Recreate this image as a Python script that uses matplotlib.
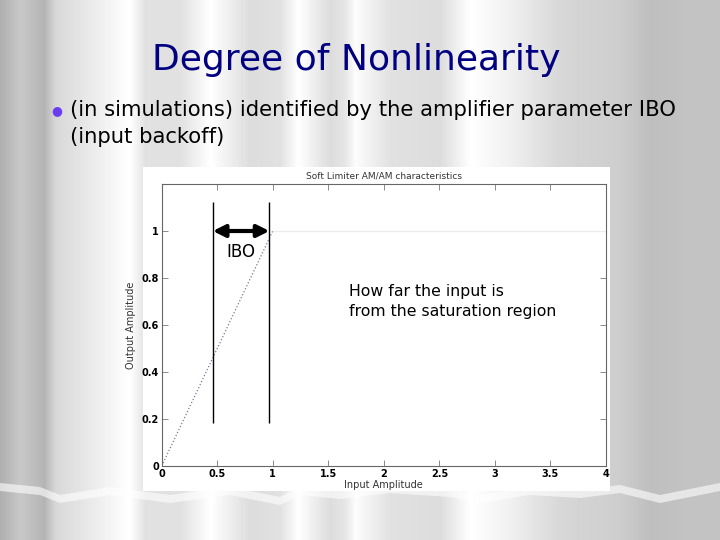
#!/usr/bin/env python3

import numpy as np
import matplotlib
matplotlib.use('Agg')
import matplotlib.pyplot as plt
from matplotlib.patches import Rectangle

# soft limiter AM/AM curve
input_amp = [0, 1, 4]
output_amp = [0, 1, 1]

# IBO marker lines
ibo_x = [0.46, 0.97]
ibo_ymin, ibo_ymax = 0.185, 1.125

xticks = [0, 0.5, 1, 1.5, 2, 2.5, 3, 3.5, 4]
yticks = [0, 0.2, 0.4, 0.6, 0.8, 1]

slide_title = 'Degree of Nonlinearity'
bullet_lines = ['(in simulations) identified by the amplifier parameter IBO',
                '(input backoff)']
note = 'How far the input is\nfrom the saturation region'


def curtain(fig):
    # grey curtain folds behind the slide
    bg = fig.add_axes([0, 0, 1, 1], zorder=-10)
    px = [0, 20, 44, 55, 130, 145, 180, 210, 250, 280, 298, 330, 345, 355,
          390, 440, 470, 510, 560, 620, 650, 690, 720]
    lv = [175, 200, 180, 215, 255, 225, 225, 255, 220, 225, 255, 220, 230, 252,
          225, 220, 255, 240, 215, 205, 190, 195, 195]
    row = np.interp(np.arange(720), px, lv) / 255.0
    img = np.tile(row, (540, 1))
    bg.imshow(img, cmap='gray', vmin=0, vmax=1, aspect='auto',
              extent=[0, 720, 540, 0])
    # white scalloped hem under the chart
    wx = np.array([0, 40, 60, 110, 170, 230, 280, 300, 340, 390, 450, 480, 530, 580, 620, 660, 720])
    wt = np.array([488, 492, 500, 492, 500, 492, 502, 492, 496, 490, 494, 500, 492, 495, 490, 500, 488])
    bg.fill_between(wx, wt - 5, wt + 3, color='white', alpha=0.6, lw=0)
    bg.set_xlim(0, 720)
    bg.set_ylim(540, 0)
    bg.axis('off')
    return bg


def main():
    fig = plt.figure(figsize=(7.2, 5.4), dpi=100)
    bg = curtain(fig)

    # white panel of the pasted figure
    bg.add_patch(Rectangle((143, 167), 467, 324, color='white', lw=0))

    fig.text(356 / 720, 1 - 60 / 540, slide_title, ha='center', va='center',
             fontsize=26, color='#000080')
    fig.text(57 / 720, 1 - 111 / 540, '\u25CF', ha='center', va='center',
             fontsize=9, color='#6a3cf0')
    fig.text(70 / 720, 1 - 110 / 540, bullet_lines[0], ha='left', va='center',
             fontsize=15.2, color='black')
    fig.text(70 / 720, 1 - 137 / 540, bullet_lines[1], ha='left', va='center',
             fontsize=15.2, color='black')

    ax = fig.add_axes([161.7 / 720, 1 - 466 / 540, 444.3 / 720, 282 / 540])
    ax.set_facecolor('white')
    ax.plot(input_amp[:2], output_amp[:2], ls=':', color='#7a7a9a', lw=0.9)
    ax.plot(input_amp[1:], output_amp[1:], ls='-', color='#ececec', lw=0.9)
    ax.set_xlim(0, 4)
    ax.set_ylim(0, 1.2)
    ax.set_xticks(xticks)
    ax.set_xticklabels(['%g' % t for t in xticks])
    ax.set_yticks(yticks)
    ax.set_yticklabels(['%g' % t for t in yticks])
    ax.tick_params(direction='in', top=True, right=True, length=4, width=0.6,
                   color='#777777', labelsize=7, pad=2)
    for lab in ax.get_xticklabels() + ax.get_yticklabels():
        lab.set_fontweight('bold')
    for sp in ax.spines.values():
        sp.set_color('#666666')
        sp.set_linewidth(0.8)
    ax.set_title('Soft Limiter AM/AM characteristics', fontsize=6.5,
                 color='#333333', pad=4)
    ax.set_xlabel('Input Amplitude', fontsize=7, color='#333333', labelpad=1)
    ax.set_ylabel('Output Amplitude', fontsize=7, color='#333333', labelpad=4)

    ax.vlines(ibo_x, ibo_ymin, ibo_ymax, color='black', lw=1)
    ax.annotate('', xy=(ibo_x[1], 1), xytext=(ibo_x[0], 1),
                arrowprops=dict(arrowstyle='<|-|>', lw=3, color='black',
                                mutation_scale=18, shrinkA=0, shrinkB=0))
    ax.text(sum(ibo_x) / 2, 0.91, 'IBO', ha='center', va='center',
            fontsize=12, color='black')
    ax.text(1.69, 0.70, note, ha='left', va='center', fontsize=11.3,
            color='black', linespacing=1.35)

    fig.savefig('out.png', dpi=100)


if __name__ == '__main__':
    main()
